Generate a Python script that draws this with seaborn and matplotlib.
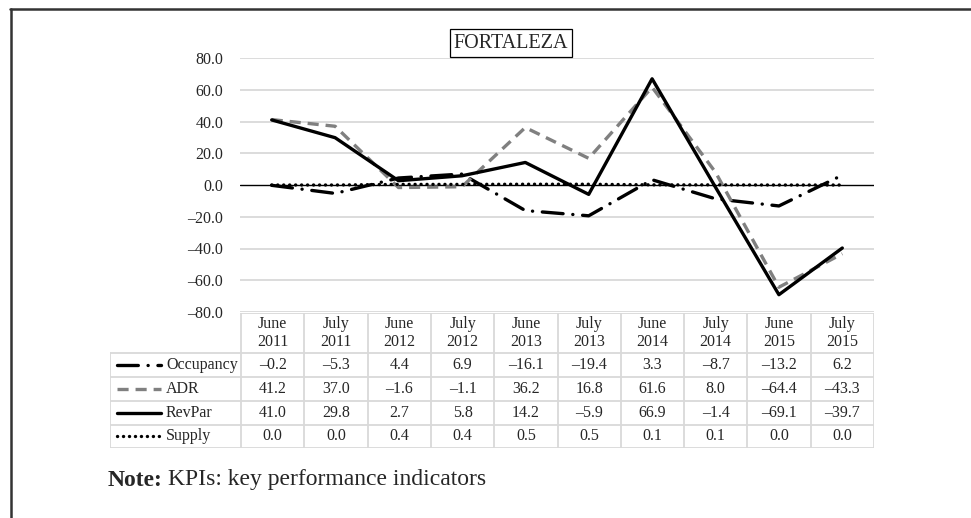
import matplotlib
matplotlib.use("Agg")
import matplotlib.pyplot as plt
import seaborn as sns
import numpy as np
from matplotlib.lines import Line2D

# data
periods = ["June\n2011", "July\n2011", "June\n2012", "July\n2012", "June\n2013",
           "July\n2013", "June\n2014", "July\n2014", "June\n2015", "July\n2015"]
occupancy = [-0.2, -5.3, 4.4, 6.9, -16.1, -19.4, 3.3, -8.7, -13.2, 6.2]
adr = [41.2, 37.0, -1.6, -1.1, 36.2, 16.8, 61.6, 8.0, -64.4, -43.3]
revpar = [41.0, 29.8, 2.7, 5.8, 14.2, -5.9, 66.9, -1.4, -69.1, -39.7]
supply = [0.0, 0.0, 0.4, 0.4, 0.5, 0.5, 0.1, 0.1, 0.0, 0.0]
series_names = ["Occupancy", "ADR", "RevPar", "Supply"]
series_values = [occupancy, adr, revpar, supply]
yticks = [-80, -60, -40, -20, 0, 20, 40, 60, 80]

sns.set_style("white")
plt.rcParams["font.family"] = ["Liberation Serif", "DejaVu Serif"]
plt.rcParams["lines.scale_dashes"] = False

styles = {
    "Occupancy": dict(color="black", lw=2.4, linestyle=(0, (15, 7, 0.1, 7)), dash_capstyle="round"),
    "ADR": dict(color="#808080", lw=2.4, linestyle=(0, (8, 5))),
    "RevPar": dict(color="black", lw=2.4, linestyle="-"),
    "Supply": dict(color="black", lw=2.4, linestyle=(0, (0.1, 4.2)), dash_capstyle="round"),
}

W, H = 971, 518
fig = plt.figure(figsize=(W / 100, H / 100), dpi=100)

def fx(px):
    return px / W

def fy(py):
    return 1 - py / H

# main plot area
ax = fig.add_axes([fx(240), fy(312), fx(874) - fx(240), fy(58) - fy(312)])
x = np.arange(len(periods))
for name, vals in zip(series_names, series_values):
    sns.lineplot(x=x, y=vals, ax=ax, sort=False, legend=False, zorder=3, **styles[name])

ax.set_xlim(-0.5, len(periods) - 0.5)
ax.set_ylim(-80, 80)
ax.set_yticks(yticks)
ax.set_yticklabels([f"{v:.1f}".replace("-", "\u2013") for v in yticks], fontsize=11.5)
ax.tick_params(axis="y", length=0, pad=12)
ax.set_xticks([])
for v in yticks:
    if v != 0:
        ax.axhline(v, color="#d9d9d9", lw=1.3, zorder=1)
ax.axhline(0, color="black", lw=1.0, zorder=2)
for s in ax.spines.values():
    s.set_visible(False)
ax.set_xlabel("")
ax.set_ylabel("")

# title box
fig.text(fx(511), fy(43), "FORTALEZA", ha="center", va="center", fontsize=14.5,
         bbox=dict(boxstyle="square,pad=0.2", fc="white", ec="black", lw=0.9))

# data table below the chart
tab = fig.add_axes([fx(110), fy(448), fx(874) - fx(110), fy(313) - fy(448)])
col_w = (874 - 241) / len(periods)
leg_w = (241 - 110) / col_w
tab.set_xlim(-0.5 - leg_w, len(periods) - 0.5)
tab.set_ylim(135, 0)
tab.axis("off")
rows = [0, 40, 64, 88, 111.5, 135]
grid_c = "#d9d9d9"
tab.plot([-0.5, len(periods) - 0.5], [rows[0], rows[0]], color=grid_c, lw=1.3)
for r in rows[1:]:
    tab.plot([-0.5 - leg_w, len(periods) - 0.5], [r, r], color=grid_c, lw=1.3)
for i in range(len(periods) + 1):
    tab.plot([i - 0.5, i - 0.5], [rows[0], rows[-1]], color=grid_c, lw=1.3)
tab.plot([-0.5 - leg_w, -0.5 - leg_w], [rows[1], rows[-1]], color=grid_c, lw=1.3)

for i, p in enumerate(periods):
    tab.text(i, (rows[0] + rows[1]) / 2, p, ha="center", va="center", fontsize=11.5, linespacing=1.1)

def px2u(px):
    return -0.5 - (241 - px) / col_w

for k, (name, vals) in enumerate(zip(series_names, series_values)):
    yc = (rows[k + 1] + rows[k + 2]) / 2
    for i, v in enumerate(vals):
        tab.text(i, yc, f"{v:.1f}".replace("-", "\u2013"), ha="center", va="center", fontsize=11.5)
    tab.plot([px2u(117), px2u(161)], [yc, yc], **styles[name])
    tab.text(px2u(166), yc, name, ha="left", va="center", fontsize=11.5)

# note
fig.canvas.draw()
t1 = fig.text(fx(108), fy(480), "Note:", fontsize=17, fontweight="bold", va="center", ha="left")
bb = t1.get_window_extent(renderer=fig.canvas.get_renderer())
fig.text(bb.x1 / W + fx(5), fy(480), "KPIs: key performance indicators", fontsize=17, va="center", ha="left")

# outer frame
fig.add_artist(Line2D([fx(10), 1], [fy(9), fy(9)], color="#333333", lw=1.8))
fig.add_artist(Line2D([fx(10.5), fx(10.5)], [0, fy(9)], color="#333333", lw=1.8))

fig.savefig("out.png", dpi=100, facecolor="white")
